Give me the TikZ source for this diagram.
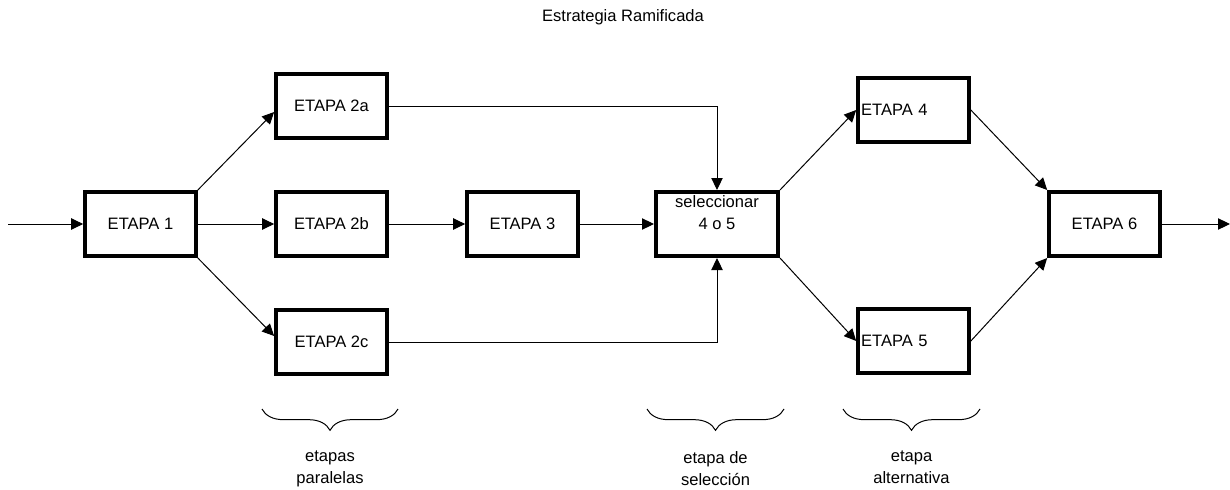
\documentclass[tikz,border=0pt]{standalone}
\usepackage{fontspec}
\setmainfont{Liberation Sans}
\usetikzlibrary{arrows.meta,calc,decorations.pathreplacing}

\begin{document}
\begin{tikzpicture}[x=0.75pt,y=-0.75pt,font=\fontsize{12.4}{16.5}\selectfont,
  etapa/.style={draw,line width=3pt,minimum width=83pt,minimum height=48pt,inner sep=0pt},
  etapaizq/.style={etapa,inner xsep=2.25pt,text width=78.5pt,align=left},
  flecha/.style={-{Triangle[length=9pt,width=8.5pt]},line width=0.75pt},
  llave/.style={decorate,decoration={brace,mirror,amplitude=16pt},line width=0.75pt}]
  \useasboundingbox (0,0) rectangle (1230,489);
  \node (titulo) at (623,17) {Estrategia Ramificada};
  \coordinate (entrada) at (8,224); \coordinate (salida) at (1230,224);
  \node[etapa] (e1) at (140.5,224) {ETAPA 1};
  \node[etapa] (e2a) at (331.5,106) {ETAPA 2a}; \node[etapa] (e2b) at (331.5,224) {ETAPA 2b}; \node[etapa] (e2c) at (331.5,342) {ETAPA 2c};
  \node[etapa] (e3) at (522.5,224) {ETAPA 3};
  \node[etapa,minimum width=91.5pt,label={[anchor=north,align=center,inner sep=0pt,yshift=-4pt]north:seleccionar\\4 o 5}] (sel) at (717,224) {};
  \node[etapaizq] (e4) at (913.5,110) {ETAPA 4}; \node[etapaizq] (e5) at (913.5,341) {ETAPA 5};
  \node[etapa] (e6) at (1104.5,224) {ETAPA 6};
  \draw[flecha] (entrada) -- (e1); \draw[flecha] (e1) -- (e2b); \draw[flecha] (e2b) -- (e3); \draw[flecha] (e3.east) -- (sel.west);
  \draw[flecha] (e1.north east) -- ($(e2a.west)+(0,6)$); \draw[flecha] (e1.south east) -- ($(e2c.west)+(0,-6)$);
  \draw[flecha] (e2a.east) -| (sel.north); \draw[flecha] (e2c.east) -| (sel.south);
  \draw[flecha] (sel.north east) -- (e4.west); \draw[flecha] (sel.south east) -- (e5.west);
  \draw[flecha] (e4.east) -- (e6.north west); \draw[flecha] (e5.east) -- (e6.south west);
  \draw[flecha] (e6.east) -- (salida);
  \draw[llave] (262,409) -- (398,409) node[midway,below=28pt,align=center] (paralelas) {etapas\\paralelas};
  \draw[llave] (647,409) -- (784,409) node[midway,below=28pt,align=center] (seleccion) {etapa de\\selección};
  \draw[llave] (843,409) -- (980,409) node[midway,below=28pt,align=center] (alternativa) {etapa\\alternativa};
\end{tikzpicture}
\end{document}
